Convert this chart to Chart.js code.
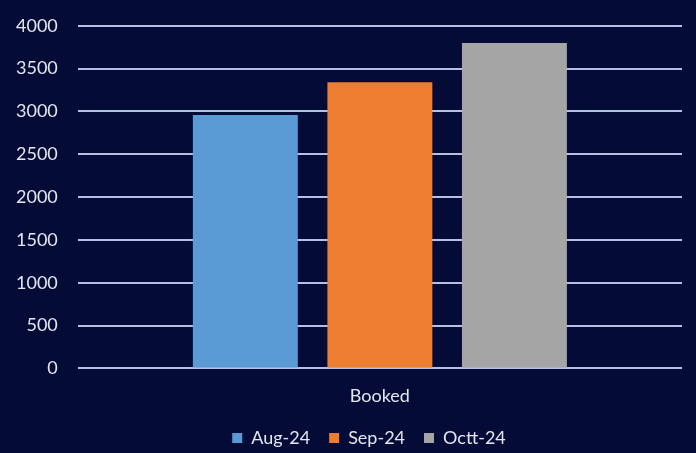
<!DOCTYPE html>
<html>
<head>
<meta charset="utf-8">
<script src="https://cdn.jsdelivr.net/npm/chart.js"></script>
<style>
  html, body { margin: 0; padding: 0; background: #030b36; }
  #wrap { width: 696px; height: 453px; }
</style>
</head>
<body>
<div id="wrap"><canvas id="chart"></canvas></div>
<script>
const categories = ['Booked'];
const seriesNames = ['Aug-24', 'Sep-24', 'Octt-24'];
const seriesValues = [[2960], [3340], [3800]];
const seriesColors = ['#5b9bd5', '#ed7d31', '#a5a5a5'];
const yTicks = { min: 0, max: 4000, step: 500 };

const textColor = '#e4e6ee';
const gridColor = '#b4c0e4';
const fontSize = 18;

const datasets = seriesNames.map((name, i) => ({
    label: name,
    data: seriesValues[i],
    backgroundColor: seriesColors[i],
    borderWidth: 0,
    categoryPercentage: 0.668,
    barPercentage: 0.78
}));

// the legend in the original sits a little right of the canvas centre
const legendShift = {
    id: 'legendShift',
    afterLayout(chart) {
        chart.legend.left += 20;
        chart.legend.right += 20;
    }
};

new Chart(document.getElementById('chart').getContext('2d'), {
    type: 'bar',
    data: { labels: categories, datasets: datasets },
    plugins: [legendShift],
    options: {
        responsive: true,
        maintainAspectRatio: false,
        animation: false,
        layout: { padding: { top: 0, right: 14, left: 16, bottom: -4 } },
        scales: {
            x: {
                grid: { display: false, drawTicks: false },
                border: { display: false },
                ticks: { color: textColor, font: { family: 'Lato', size: fontSize }, padding: 17 },
                afterFit: (scale) => { scale.height -= 14; }
            },
            y: {
                min: yTicks.min,
                max: yTicks.max,
                grid: { color: gridColor, lineWidth: 2, drawTicks: false },
                border: { display: false },
                ticks: {
                    stepSize: yTicks.step,
                    color: textColor,
                    font: { family: 'Lato', size: fontSize },
                    padding: 20,
                    callback: (v) => String(v)
                },
                afterFit: (scale) => {
                    scale.width -= 20;
                    scale.paddingTop -= 5;
                }
            }
        },
        plugins: {
            tooltip: { enabled: false },
            legend: {
                position: 'bottom',
                labels: {
                    color: textColor,
                    font: { family: 'Lato', size: fontSize },
                    boxWidth: 10,
                    boxHeight: 10,
                    padding: 19
                }
            }
        }
    }
});
</script>
</body>
</html>
